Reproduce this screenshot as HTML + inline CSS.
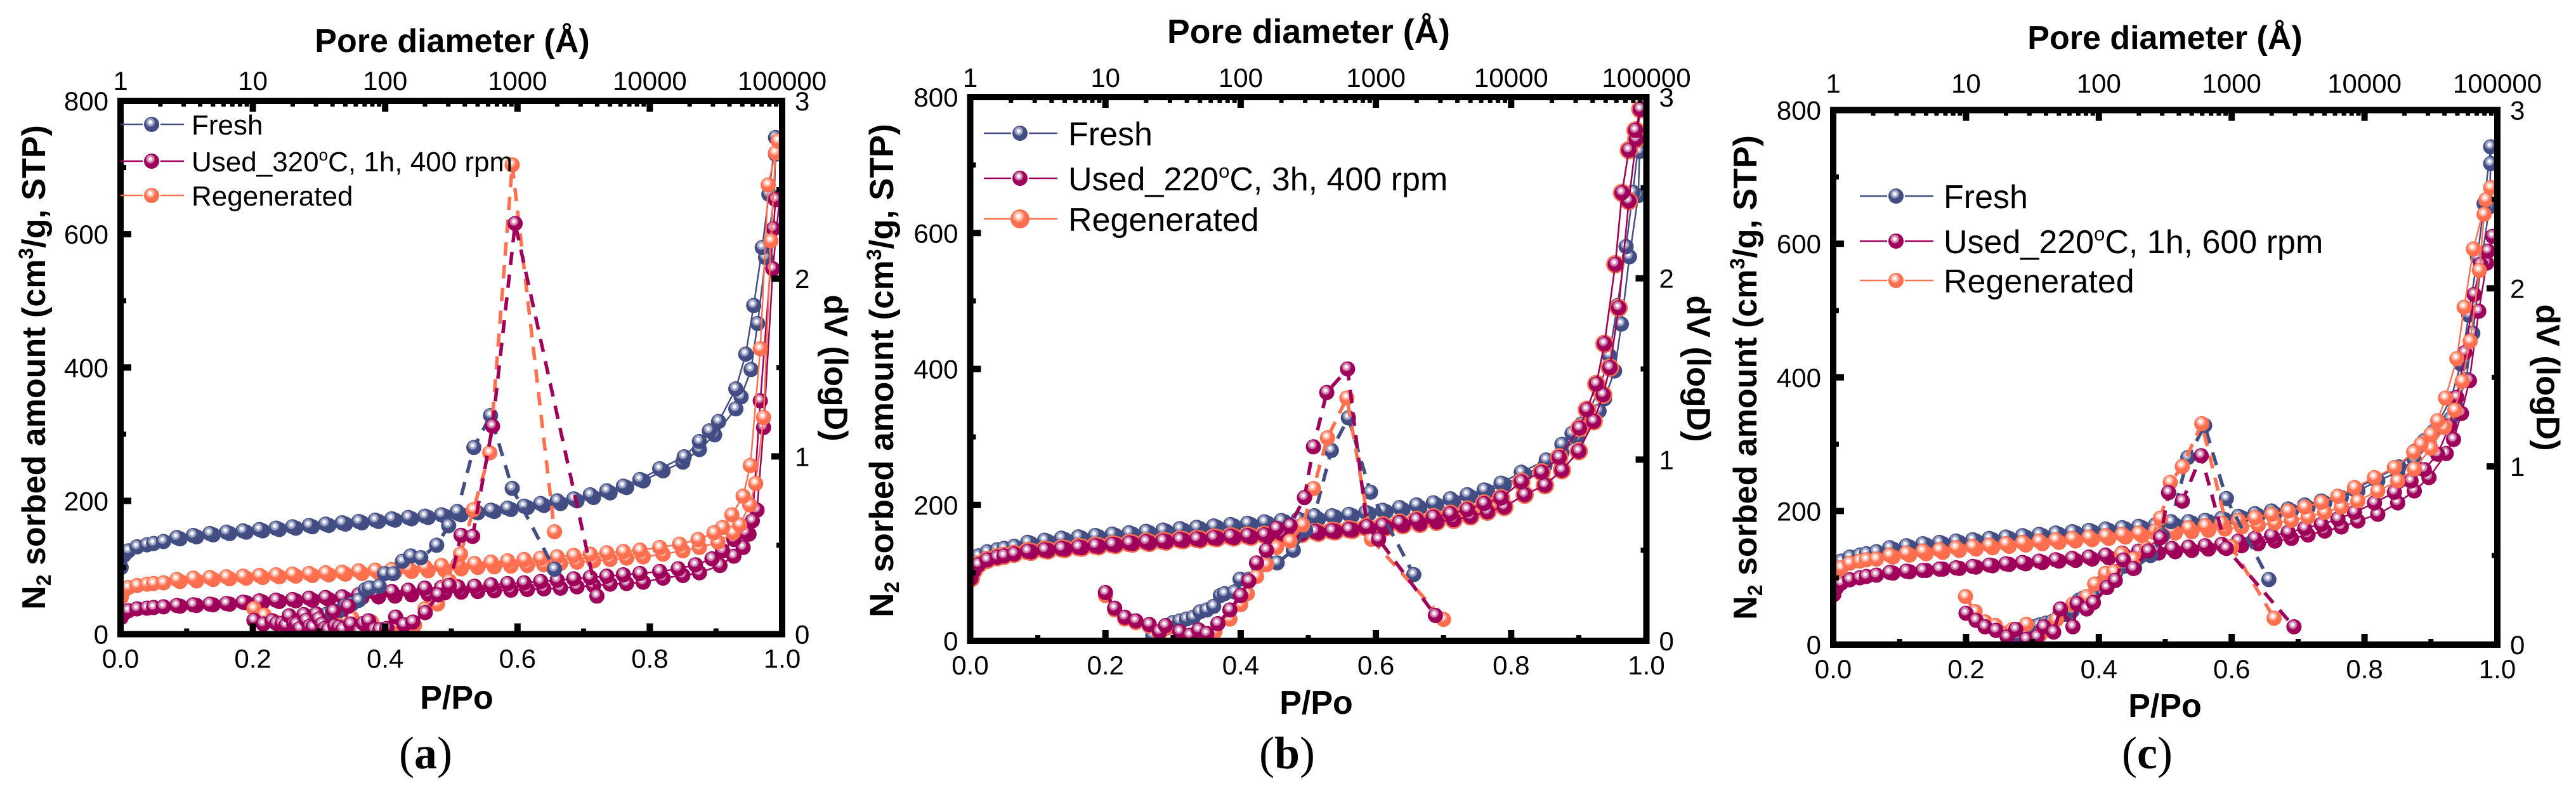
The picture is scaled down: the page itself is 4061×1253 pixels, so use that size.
<!DOCTYPE html>
<html lang="en">
<head>
<meta charset="utf-8">
<title>N2 sorption isotherms and pore size distribution</title>
<style>
html,body{margin:0;padding:0;background:#fff;}
svg{display:block;}
text{font-family:"Liberation Sans",Arial,sans-serif;fill:#000;}
.tick{font-size:42px;}
.title{font-size:52px;font-weight:bold;}
.leg-a{font-size:44px;}
.leg-b{font-size:52px;}
.cap{font-family:"Liberation Serif","Times New Roman",serif;font-size:72px;}
</style>
</head>
<body>
<svg id="figure" xmlns="http://www.w3.org/2000/svg" width="4061" height="1253" viewBox="0 0 4061 1253">
<defs>
<radialGradient id="grad-fresh" cx="0.42" cy="0.36" r="0.62"><stop offset="0" stop-color="#fff"/><stop offset="0.17" stop-color="#eef0f6"/><stop offset="0.25" stop-color="#a9afcb"/><stop offset="0.42" stop-color="#8f96b9"/><stop offset="0.5" stop-color="#434e84"/><stop offset="1" stop-color="#414c82"/></radialGradient>
<radialGradient id="grad-used" cx="0.42" cy="0.36" r="0.62"><stop offset="0" stop-color="#fff"/><stop offset="0.17" stop-color="#f6e8f1"/><stop offset="0.25" stop-color="#d898bd"/><stop offset="0.42" stop-color="#c46fa2"/><stop offset="0.5" stop-color="#a0005a"/><stop offset="1" stop-color="#9e0059"/></radialGradient>
<radialGradient id="grad-regen" cx="0.42" cy="0.36" r="0.62"><stop offset="0" stop-color="#fff"/><stop offset="0.17" stop-color="#fff0ec"/><stop offset="0.25" stop-color="#ffc3b4"/><stop offset="0.42" stop-color="#ffa48f"/><stop offset="0.5" stop-color="#ff7050"/><stop offset="1" stop-color="#fe6e4e"/></radialGradient>
<clipPath id="clip-a"><rect x="195" y="164" width="1033" height="831"/></clipPath>
<clipPath id="clip-b"><rect x="1534.5" y="158" width="1056" height="847"/></clipPath>
<clipPath id="clip-c"><rect x="2895" y="178.5" width="1037" height="833"/></clipPath>
</defs>

<g id="panel-a"><g id="data-a" clip-path="url(#clip-a)"></g><g id="axes-a"></g>
<text class="title" x="713" y="82" text-anchor="middle">Pore diameter (Å)</text>
<text class="title" x="720" y="1117" text-anchor="middle">P/Po</text>
<text class="title" transform="translate(71,579) rotate(-90)" text-anchor="middle">N<tspan font-size="32" dy="9">2</tspan><tspan dy="-9"> sorbed amount (cm</tspan><tspan font-size="32" dy="-19">3</tspan><tspan dy="19">/g, STP)</tspan></text>
<text class="title" transform="translate(1300,580) rotate(90)" text-anchor="middle">dV (logD)</text>
<text class="cap" x="671" y="1211" text-anchor="middle">(<tspan font-weight="bold">a</tspan>)</text>
<g>
<g><line x1="190" x2="290" y1="196" y2="196" stroke="#434e84" stroke-width="2.5"/><circle cx="239" cy="196" r="14" fill="#fff"/><circle cx="239" cy="196" r="12" fill="url(#grad-fresh)"/><text class="leg-a" x="302" y="212">Fresh</text></g>
<g><line x1="190" x2="290" y1="254" y2="254" stroke="#a0005a" stroke-width="2.5"/><circle cx="239" cy="254" r="14" fill="#fff"/><circle cx="239" cy="254" r="12" fill="url(#grad-used)"/><text class="leg-a" x="302" y="270">Used_320<tspan font-size="26" dy="-17">o</tspan><tspan dy="17">C, 1h, 400 rpm</tspan></text></g>
<g><line x1="190" x2="290" y1="308" y2="308" stroke="#ff7050" stroke-width="2.5"/><circle cx="239" cy="308" r="14" fill="#fff"/><circle cx="239" cy="308" r="12" fill="url(#grad-regen)"/><text class="leg-a" x="302" y="324">Regenerated</text></g>
</g></g>

<g id="panel-b"><g id="data-b" clip-path="url(#clip-b)"></g><g id="axes-b"></g>
<text class="title" x="2063" y="68" text-anchor="middle" style="font-size:53.5px">Pore diameter (Å)</text>
<text class="title" x="2075" y="1125" text-anchor="middle">P/Po</text>
<text class="title" transform="translate(1408,584) rotate(-90)" text-anchor="middle" style="font-size:53px">N<tspan font-size="32" dy="9">2</tspan><tspan dy="-9"> sorbed amount (cm</tspan><tspan font-size="32" dy="-19">3</tspan><tspan dy="19">/g, STP)</tspan></text>
<text class="title" transform="translate(2660,581) rotate(90)" text-anchor="middle">dV (logD)</text>
<text class="cap" x="2029" y="1211" text-anchor="middle">(<tspan font-weight="bold">b</tspan>)</text>
<g>
<g><line x1="1551" x2="1667" y1="210" y2="210" stroke="#434e84" stroke-width="2.5"/><circle cx="1608" cy="210" r="14" fill="#fff"/><circle cx="1608" cy="210" r="12" fill="url(#grad-fresh)"/><text class="leg-b" x="1684" y="229">Fresh</text></g>
<g><line x1="1551" x2="1667" y1="281" y2="281" stroke="#a0005a" stroke-width="2.5"/><circle cx="1608" cy="281" r="14" fill="#fff"/><circle cx="1608" cy="281" r="12" fill="url(#grad-used)"/><text class="leg-b" x="1684" y="300">Used_220<tspan font-size="31" dy="-20">o</tspan><tspan dy="20">C, 3h, 400 rpm</tspan></text></g>
<g><line x1="1551" x2="1667" y1="345" y2="345" stroke="#ff7050" stroke-width="2.5"/><circle cx="1608" cy="345" r="15" fill="url(#grad-regen)"/><text class="leg-b" x="1684" y="364">Regenerated</text></g>
</g></g>

<g id="panel-c"><g id="data-c" clip-path="url(#clip-c)"></g><g id="axes-c"></g>
<text class="title" x="3413" y="77" text-anchor="middle">Pore diameter (Å)</text>
<text class="title" x="3413" y="1130" text-anchor="middle">P/Po</text>
<text class="title" transform="translate(2769,595) rotate(-90)" text-anchor="middle">N<tspan font-size="32" dy="9">2</tspan><tspan dy="-9"> sorbed amount (cm</tspan><tspan font-size="32" dy="-19">3</tspan><tspan dy="19">/g, STP)</tspan></text>
<text class="title" transform="translate(3999,595) rotate(90)" text-anchor="middle">dV (logD)</text>
<text class="cap" x="3385" y="1211" text-anchor="middle">(<tspan font-weight="bold">c</tspan>)</text>
<g>
<g><line x1="2932" x2="3048" y1="309" y2="309" stroke="#434e84" stroke-width="2.5"/><circle cx="2989" cy="309" r="14" fill="#fff"/><circle cx="2989" cy="309" r="12" fill="url(#grad-fresh)"/><text class="leg-b" x="3064" y="328">Fresh</text></g>
<g><line x1="2932" x2="3048" y1="380" y2="380" stroke="#a0005a" stroke-width="2.5"/><circle cx="2989" cy="380" r="14" fill="#fff"/><circle cx="2989" cy="380" r="12" fill="url(#grad-used)"/><text class="leg-b" x="3064" y="399">Used_220<tspan font-size="31" dy="-20">o</tspan><tspan dy="20">C, 1h, 600 rpm</tspan></text></g>
<g><line x1="2932" x2="3048" y1="442" y2="442" stroke="#ff7050" stroke-width="2.5"/><circle cx="2989" cy="442" r="14" fill="#fff"/><circle cx="2989" cy="442" r="12" fill="url(#grad-regen)"/><text class="leg-b" x="3064" y="461">Regenerated</text></g>
</g></g>
</svg>

<script>
// Relative pressure (P/Po) of the shared low-pressure part of each branch
const adsBaseP = [0.001,0.005,0.012,0.025,0.04,0.05,0.065,0.09,0.115,0.14,0.165,0.19,0.215,0.24,0.265,0.29,0.315,0.34,0.365,0.39,0.415,0.44,0.465,0.49,0.515,0.54,0.565,0.59,0.615,0.64,0.665,0.69,0.715,0.74,0.765,0.79,0.82,0.85,0.875];
const desBaseP = [0.815,0.785,0.76,0.735,0.71,0.685,0.66,0.635,0.61,0.585,0.56,0.535,0.51,0.485,0.46,0.435,0.41,0.385,0.36,0.335,0.31,0.285,0.26,0.235,0.21,0.185,0.16,0.135,0.11,0.085];

// Fresh sample (shared by all panels)
const freshAdsTailP = [0.898,0.93,0.938,0.953,0.963,0.975,0.988,0.99];
const freshDesTailP = [0.99,0.98,0.97,0.957,0.945,0.93,0.904,0.89,0.875,0.852];
const freshAds = [100,118,125,131,134,136,139,143,146,149,151,153,155,157,159,161,163,165,167,169,171,173,175,177,179,182,184,187,190,193,196,200,205,212,220,230,245,258,277,299,338,356,397,466,565,655,720];
const freshDes = [745,660,580,493,420,368,319,305,289,266,248,232,222,215,209,203,200,196,192,189,186,184,181,179,177,175,173,171,169,167,165,163,161,159,157,155,153,151,148,145];
const freshPore = [22.4,25.1,28.2,31.6,35.5,39.8,44.7,50.1,56.2,63.1,70.8,75.9,90.2,98.9,115,135,156,186,245,302,350,468,626,912,1905];
const freshDv = [0.03,0.05,0.07,0.10,0.11,0.12,0.13,0.16,0.17,0.19,0.25,0.26,0.27,0.34,0.34,0.41,0.44,0.43,0.50,0.61,0.69,1.05,1.23,0.82,0.365];

// Panel a: Used 320C, 1h, 400 rpm
const usedAAdsTailP = [0.906,0.927,0.941,0.95,0.962,0.972,0.986,0.996];
const usedADesTailP = [0.99,0.987,0.967,0.955,0.945,0.927,0.91,0.894,0.869,0.843];
const usedAAds = [25,31,35,38,39,40,41,42,43,44,45,47,48,49,50,51,52,53,55,56,57,59,60,62,63,64,65,66,67,68,69,71,73,75,76,78,84,88,92,103,117,130,150,186,310,548,652];
const usedADes = [652,608,350,170,152,142,125,113,104,98,94,91,89,87,85,83,81,79,77,76,74,72,71,70,69,66,64,62,59,56,55,54,52,51,50,48,46,45,44,43];
const usedAPore = [10.2,12,14,15.1,16.6,17.8,18.8,20.4,21.4,22.7,24.3,25.4,26.9,28.5,30.2,31.6,33.5,35,37.2,40.7,41.7,44.7,47.9,52.5,55,63.9,68.4,75,83.2,91.2,103,120,139,162,201,251,305,375,458,648,960,3981];
const usedADv = [0.078,0.057,0.075,0.06,0.06,0.05,0.103,0.057,0.057,0.032,0.11,0.078,0.043,0.039,0.114,0.086,0.057,0.032,0.025,0.128,0.046,0.039,0.028,0.157,0.057,0.014,0.06,0.075,0.025,0.025,0.032,0.096,0.053,0.068,0.121,0.221,0.274,0.556,0.55,1.17,2.31,0.214];

// Panel a: Regenerated
const regenAAdsTailP = [0.903,0.926,0.936,0.951,0.96,0.972,0.983,0.99];
const regenADesTailP = [0.994,0.979,0.967,0.952,0.941,0.924,0.91,0.897,0.873,0.845];
const regenAAds = [55,65,70,73,75,76,77,79,80,82,83,84,85,86,87,88,89,90,91,92,93,94,95,96,98,100,101,102,103,104,106,108,110,112,114,116,120,125,130,138,152,164,194,226,325,590,722];
const regenADes = [740,674,428,253,207,179,160,152,142,135,130,126,124,122,120,118,116,114,112,110,108,106,105,103,101,99,97,96,95,93,92,91,90,89,88,87,86,85,84,82];
const regenAPore = [10.2,12.2,14.8,17.8,22.4,28.2,35.5,44.7,56.2,67,78.5,94.4,112,141,167,200,249,305,371,464,617,912,1905];
const regenADv = [0.143,0.107,0.07,0.057,0.014,0.01,0.01,0.05,0.09,0.05,0.07,0.01,0.01,0.01,0.05,0.143,0.17,0.30,0.45,0.70,1.02,2.64,0.576];

// Panel b: Used 220C, 3h, 400 rpm
const panelBAdsTailP = [0.9,0.922,0.936,0.946,0.959,0.974,0.985,0.991];
const panelBDesTailP = [0.984,0.974,0.964,0.954,0.938,0.926,0.912,0.901,0.871,0.845];
const usedBAds = [92,103,112,119,123,125,128,131,133,135,137,139,141,143,144,146,148,149,151,152,153,154,155,157,159,161,163,165,167,170,172,175,178,183,190,197,215,229,251,279,323,362,402,490,647,738,782];
const usedBDes = [751,722,659,554,437,378,340,313,270,248,234,210,202,193,187,182,178,174,170,167,164,162,161,160,158,156,155,154,152,150,149,147,146,144,142,140,138,136,134,132];
const usedBPore = [10,11.7,13.9,16.8,21.1,25.1,27.8,35.5,42.2,48.9,56.2,67.8,83.2,100,115,131,155,184,232,296,345,433,617,860,1047,2754];
const usedBDv = [0.266,0.18,0.13,0.11,0.09,0.05,0.084,0.05,0.03,0.06,0.04,0.095,0.17,0.25,0.33,0.43,0.50,0.62,0.635,0.79,1.07,1.37,1.5,0.63,0.56,0.14];

// Panel b: Regenerated
const regenBAds = [92,103,112,119,123,125,128,131,133,135,137,139,141,143,144,146,148,149,151,152,153,154,155,157,159,161,163,165,167,170,172,175,178,183,190,197,215,229,251,279,323,362,402,490,647,738,782];
const regenBDes = [751,722,659,554,437,378,340,313,270,248,234,210,202,193,187,182,178,174,170,167,164,162,161,160,158,156,155,154,152,150,149,147,146,144,142,140,138,136,134,132];
const regenBPore = [10,11.7,13.9,16.8,21.1,25.1,27.8,35.5,42.2,48.9,56.2,64.6,83.2,100,112,131,155,184,232,288,345,438,610,926,3162];
const regenBDv = [0.25,0.17,0.12,0.10,0.08,0.04,0.07,0.04,0.02,0.04,0.03,0.05,0.12,0.20,0.26,0.355,0.42,0.515,0.55,0.64,0.84,1.12,1.34,0.56,0.118];

// Panel c: Used 220C, 1h, 600 rpm
const usedCAdsTailP = [0.897,0.923,0.934,0.946,0.958,0.972,0.984,0.993];
const usedCDesTailP = [0.986,0.975,0.965,0.951,0.939,0.928,0.91,0.89,0.87,0.845];
const usedCAds = [75,85,92,97,100,102,104,107,109,111,113,114,116,118,120,121,123,125,126,128,130,132,135,137,139,141,143,145,148,151,155,159,164,170,176,185,195,212,230,250,286,307,346,395,499,571,611];
const usedCDes = [589,569,524,437,370,327,285,262,245,228,212,198,188,180,174,168,163,159,155,150,148,146,144,142,140,137,134,131,129,127,125,123,121,119,117,115,113,111,110,108];
const usedCPore = [10,11.9,13.9,16.8,20.4,23.7,28.5,34.3,38.5,45.7,51.3,63.8,68.4,81,91,115,133,153,182,236,291,335,425,589,912,2944];
const usedCDv = [0.176,0.136,0.10,0.08,0.043,0.085,0.03,0.043,0.10,0.07,0.20,0.10,0.23,0.2,0.236,0.32,0.36,0.475,0.427,0.526,0.6,0.853,0.805,1.06,0.54,0.10];

// Panel c: Regenerated
const regenCAdsTailP = [0.9,0.92,0.936,0.947,0.959,0.973,0.98,0.99];
const regenCDesTailP = [0.983,0.964,0.95,0.939,0.922,0.91,0.9,0.885,0.874,0.845];
const regenCAds = [105,110,115,122,125,127,128,131,134,136,138,141,143,145,147,149,151,153,155,157,159,161,163,165,167,169,171,173,176,179,182,186,191,198,206,215,230,245,263,294,325,351,394,454,560,644,684];
const regenCDes = [666,592,505,428,369,335,315,300,288,265,250,235,222,213,206,200,195,190,186,182,178,175,172,170,167,165,163,161,159,157,155,153,151,149,147,145,142,140,137,134];
const regenCPore = [9.9,11.7,13.9,16.6,22.4,28.5,36.3,47.9,63.8,81,93,112,130,148,182,229,291,345,425,596,1000,2084];
const regenCDv = [0.27,0.185,0.128,0.108,0.085,0.114,0.057,0.14,0.227,0.27,0.34,0.40,0.41,0.51,0.48,0.54,0.71,0.91,1.0,1.24,0.55,0.148];

// Axis tick values and labels
const bottomTicks = [0,0.2,0.4,0.6,0.8,1.0];
const bottomLabels = ['0.0','0.2','0.4','0.6','0.8','1.0'];
const bottomMinor = [0.1,0.3,0.5,0.7,0.9];
const leftTicks = [0,200,400,600,800];
const leftMinor = [100,300,500,700];
const rightTicks = [0,1,2,3];
const rightMinor = [0.5,1.5,2.5];
const topTicks = [1,10,100,1000,10000,100000];
const topMinorMultipliers = [2,3,4,5,6,7,8,9];

const NS = 'http://www.w3.org/2000/svg';
const colors = {fresh:'#434e84', used:'#a0005a', regen:'#ff7050'};

function make(tag, attrs, parent){
  const el = document.createElementNS(NS, tag);
  for (const k in attrs) el.setAttribute(k, attrs[k]);
  parent.appendChild(el);
  return el;
}

function drawAxes(p){
  const g = document.getElementById('axes-' + p.id);
  const w = p.right - p.left, h = p.bottom - p.top;
  const xP = v => p.left + v * w;
  const xD = d => p.left + Math.log10(d) / 5 * w;
  const yN = v => p.bottom - v / 800 * h;
  const yV = v => p.bottom - v / 3 * h;

  const frame = make('rect', {x:p.left, y:p.top, width:w, height:h, fill:'none', stroke:'#000', 'stroke-width':10}, g);
  
  

  function tick(x1, y1, x2, y2, sw, name){
    const t = make('line', {x1:x1, y1:y1, x2:x2, y2:y2, stroke:'#000', 'stroke-width':sw}, g);
    
    
  }
  function label(x, y, anchor, str, name){
    const t = make('text', {x:x, y:y, 'text-anchor':anchor, 'class':'tick'}, g);
    t.textContent = str;
    
    
  }
  bottomTicks.forEach((v, i) => {
    tick(xP(v), p.bottom, xP(v), p.bottom - 17, 10, 'x-tick');
    label(xP(v), p.bottom + 53, 'middle', bottomLabels[i], 'x-tick-label');
  });
  bottomMinor.forEach(v => tick(xP(v), p.bottom, xP(v), p.bottom - 9, 8, 'x-minor-tick'));
  leftTicks.forEach(v => {
    tick(p.left, yN(v), p.left + 17, yN(v), 10, 'y-tick');
    label(p.left - 19, yN(v) + 15, 'end', String(v), 'y-tick-label');
  });
  leftMinor.forEach(v => tick(p.left, yN(v), p.left + 9, yN(v), 8, 'y-minor-tick'));
  rightTicks.forEach(v => {
    tick(p.right, yV(v), p.right - 17, yV(v), 10, 'right-tick');
    label(p.right + 20, yV(v) + 15, 'start', String(v), 'right-tick-label');
  });
  rightMinor.forEach(v => tick(p.right, yV(v), p.right - 9, yV(v), 8, 'right-minor-tick'));
  topTicks.forEach((d, i) => {
    tick(xD(d), p.top, xD(d), p.top + 17, 10, 'top-tick');
    label(xD(d), p.topLabelY, 'middle', String(d), 'top-tick-label');
    if (i < topTicks.length - 1) {
      topMinorMultipliers.forEach(m => tick(xD(d * m), p.top, xD(d * m), p.top + 9, 7, 'top-minor-tick'));
    }
  });
}

function pairs(xs, ys){
  return xs.map((x, i) => [x, ys[i]]);
}

function drawSeries(g, pts, key, r, dashed, name){
  const group = make('g', {}, g);
  
  
  const path = make('polyline', {
    points: pts.map(q => q[0].toFixed(1) + ',' + q[1].toFixed(1)).join(' '),
    fill: 'none',
    stroke: colors[key],
    'stroke-width': dashed ? 5.5 : 2.5
  }, group);
  if (dashed) path.setAttribute('stroke-dasharray', '21 15');
  
  
  pts.forEach(q => {
    const c = make('circle', {cx:q[0].toFixed(1), cy:q[1].toFixed(1), r:r, fill:'url(#grad-' + key + ')'}, group);
    
    
  });
}

function drawPanel(p, series){
  const g = document.getElementById('data-' + p.id);
  const w = p.right - p.left, h = p.bottom - p.top;
  const xP = v => p.left + v * w;
  const xD = d => p.left + Math.log10(d) / 5 * w;
  const yN = v => p.bottom - v / 800 * h;
  const yV = v => p.bottom - v / 3 * h;
  series.forEach(s => {
    const adsX = adsBaseP.concat(s.adsTail);
    const desX = s.desTail.concat(desBaseP);
    const iso = pairs(adsX, s.ads).concat(pairs(desX, s.des)).map(q => [xP(q[0]), yN(q[1])]);
    drawSeries(g, iso, s.key, s.isoR || 12, false, s.key + '-isotherm');
  });
  series.slice().sort((a, b) => a.psdOrder - b.psdOrder).forEach(s => {
    const psd = pairs(s.pore, s.dv).map(q => [xD(q[0]), yV(q[1])]);
    drawSeries(g, psd, s.key, 12, true, s.key + '-pore-distribution');
  });
  drawAxes(p);
}

drawPanel({id:'a', left:190, right:1233, top:159, bottom:999.5, topLabelY:142}, [
  {key:'fresh', ads:freshAds, des:freshDes, adsTail:freshAdsTailP, desTail:freshDesTailP, pore:freshPore, dv:freshDv, psdOrder:1},
  {key:'used', ads:usedAAds, des:usedADes, adsTail:usedAAdsTailP, desTail:usedADesTailP, pore:usedAPore, dv:usedADv, psdOrder:3},
  {key:'regen', ads:regenAAds, des:regenADes, adsTail:regenAAdsTailP, desTail:regenADesTailP, pore:regenAPore, dv:regenADv, psdOrder:2}
]);
drawPanel({id:'b', left:1529.5, right:2595.5, top:153, bottom:1010, topLabelY:137}, [
  {key:'fresh', ads:freshAds, des:freshDes, adsTail:freshAdsTailP, desTail:freshDesTailP, pore:freshPore, dv:freshDv, psdOrder:1},
  {key:'regen', ads:regenBAds, des:regenBDes, adsTail:panelBAdsTailP, desTail:panelBDesTailP, pore:regenBPore, dv:regenBDv, isoR:14.5, psdOrder:2},
  {key:'used', ads:usedBAds, des:usedBDes, adsTail:panelBAdsTailP, desTail:panelBDesTailP, pore:usedBPore, dv:usedBDv, psdOrder:3}
]);
drawPanel({id:'c', left:2890, right:3937, top:173.5, bottom:1016, topLabelY:146}, [
  {key:'fresh', ads:freshAds, des:freshDes, adsTail:freshAdsTailP, desTail:freshDesTailP, pore:freshPore, dv:freshDv, psdOrder:1},
  {key:'used', ads:usedCAds, des:usedCDes, adsTail:usedCAdsTailP, desTail:usedCDesTailP, pore:usedCPore, dv:usedCDv, psdOrder:3},
  {key:'regen', ads:regenCAds, des:regenCDes, adsTail:regenCAdsTailP, desTail:regenCDesTailP, pore:regenCPore, dv:regenCDv, psdOrder:2}
]);
</script>
</body>
</html>
